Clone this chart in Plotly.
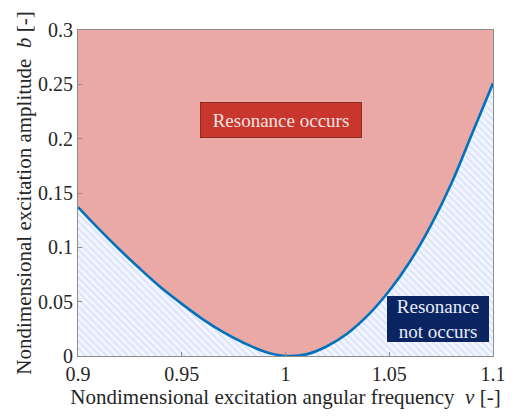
import plotly.graph_objects as go

# Boundary curve
nu = [0.90, 0.91, 0.92, 0.93, 0.94, 0.95, 0.96, 0.97, 0.98, 0.99, 1.00,
      1.01, 1.02, 1.03, 1.04, 1.05, 1.06, 1.07, 1.08, 1.09, 1.10]
b = [0.137, 0.117, 0.098, 0.080, 0.063, 0.048, 0.034, 0.022, 0.012, 0.004, 0.0,
     0.0015, 0.009, 0.021, 0.038, 0.060, 0.087, 0.120, 0.159, 0.205, 0.251]

x_ticks = [0.9, 0.95, 1.0, 1.05, 1.1]
x_labels = ["0.9", "0.95", "1", "1.05", "1.1"]
y_ticks = [0, 0.05, 0.1, 0.15, 0.2, 0.25, 0.3]
y_labels = ["0", "0.05", "0.1", "0.15", "0.2", "0.25", "0.3"]

PINK = "#EBA9A6"
FONT = "Times New Roman, Liberation Serif, serif"

fig = go.Figure()

# hatched region below curve
fig.add_trace(go.Scatter(
    x=nu, y=b, mode="lines", line=dict(width=0, shape="spline", smoothing=1.0),
    fill="tozeroy", fillcolor="#F2F5FF",
    fillpattern=dict(shape="\\", bgcolor="#F4F7FF", fgcolor="#C6D3F5",
                     size=5, solidity=0.45),
    hoverinfo="skip", showlegend=False))

# boundary line
fig.add_trace(go.Scatter(
    x=nu, y=b, mode="lines",
    line=dict(color="#0072BD", width=2.6, shape="spline", smoothing=1.0),
    showlegend=False))

fig.add_annotation(x=0.9977, y=0.217, xref="x", yref="y",
                   text="Resonance occurs", showarrow=False,
                   font=dict(family=FONT, size=19, color="#F3E3E1"),
                   bgcolor="#C8362D", bordercolor="#8E2A24", borderwidth=1,
                   width=158, height=32, borderpad=1)
fig.add_annotation(x=1.0734, y=0.034, xref="x", yref="y",
                   text="Resonance<br>not occurs", showarrow=False,
                   font=dict(family=FONT, size=19, color="#E8ECF5"),
                   bgcolor="#0B2563", bordercolor="#0B2563", borderwidth=1,
                   width=98, height=42, borderpad=1)

axis_common = dict(showline=True, linecolor="#8C8C8C", linewidth=1, mirror=True,
                   ticks="inside", ticklen=4, tickcolor="#8C8C8C",
                   showgrid=False, zeroline=False, ticklabeloverflow="allow",
                   tickfont=dict(family=FONT, size=20, color="#262626"))

fig.update_xaxes(range=[0.9, 1.1], tickvals=x_ticks, ticktext=x_labels,
                 title=dict(text="Nondimensional excitation angular frequency  <i>ν</i> [-]",
                            font=dict(family=FONT, size=21, color="#262626"), standoff=5),
                 **axis_common)
fig.update_yaxes(range=[0, 0.3], tickvals=y_ticks, ticktext=y_labels,
                 title=dict(text="Nondimensional excitation amplitude  <i>b</i> [-]",
                            font=dict(family=FONT, size=21, color="#262626"), standoff=0),
                 **axis_common)

fig.update_layout(width=517, height=418,
                  margin=dict(l=78, r=11, t=30, b=62),
                  plot_bgcolor=PINK, paper_bgcolor="white")

fig.write_html("out.html")
